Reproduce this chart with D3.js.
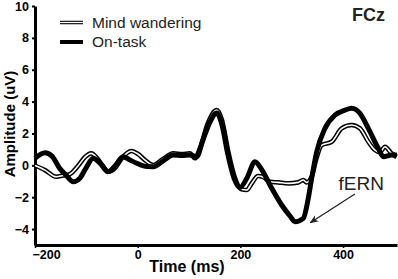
<!DOCTYPE html>
<html>
<head>
<meta charset="utf-8">
<script src="https://cdn.jsdelivr.net/npm/d3@7"></script>
<style>
  html, body { margin: 0; padding: 0; background: #fff; }
  svg { display: block; font-family: "Liberation Sans", Arial, sans-serif; }
</style>
</head>
<body>
<svg id="chart" width="398" height="279"></svg>
<script>
// ---- data ----
const onTaskTimes = [-200,-180.5,-166.9,-151.9,-139.6,-125.4,-112.4,-100.7,-86.5,-73.4,-57.8,-44.2,-28.6,-15,-1.9,18.1,30.4,49.3,69.3,86.3,101.8,114.9,127.2,140.8,153.8,164.2,175.8,187.5,199.2,212.8,228.4,242.1,261,280.4,296.6,306.3,322.5,331.6,338.8,348.6,364.7,384.2,403.7,416.7,432.9,449.1,468.5,478.3,494.6,504.4];
const onTaskValues = [0.44,0.79,0.58,-0.19,-0.61,-1.03,-0.80,-0.17,0.44,0.14,-0.40,-0.04,0.54,0.33,0.13,-0.08,-0.09,0.27,0.65,0.62,0.65,0.54,1.59,2.72,3.28,2.53,0.65,-0.80,-1.39,-0.80,0.23,-0.30,-1.44,-2.49,-3.18,-3.54,-3.33,-2.18,-0.82,0.85,2.32,3.15,3.47,3.58,3.26,2.32,1.07,0.54,0.65,0.54];
const mindTimes = [-200,-180.5,-158.5,-145.5,-132.4,-116.3,-102.6,-90.4,-79.3,-67.6,-57.8,-44.2,-30.6,-12.5,0.6,14.2,30.4,49.3,69.3,86.3,101.8,111.6,121.3,136.9,153.8,164.2,175.8,189.5,201.2,212.3,222.6,234.3,244,257.6,273.8,293.3,312.8,322.5,329.1,338.8,347.2,358.3,377.8,397.3,416.7,432.9,449.1,462.1,471.8,481.6,494.6,504.4];
const mindValues = [-0.01,-0.30,-0.72,-0.64,-0.56,-0.04,0.52,0.75,0.46,-0.04,-0.40,-0.17,0.46,0.90,0.71,0.33,0.02,0.40,0.75,0.71,0.75,0.44,1.09,2.66,3.47,2.84,0.96,-0.80,-1.49,-1.55,-1.11,-0.67,-0.73,-1.03,-1.07,-1.13,-1.07,-0.92,-1.07,-0.72,0.33,1.27,1.48,2.32,2.53,2.32,1.48,0.96,0.83,1.17,0.75,0.65];
const xTicks = [-200, 0, 200, 400];
const yTicks = [-4, -2, 0, 2, 4, 6, 8, 10];
const legendLabels = ["Mind wandering", "On-task"];
const channelLabel = "FCz";
const xTitle = "Time (ms)";
const yTitle = "Amplitude (uV)";
const annotationText = "fERN";
const annotationArrow = { fromT: 423, fromV: -1.8, toT: 336, toV: -3.6 };
const annotationLabel = { t: 391, v: -1.55 };

// ---- scales ----
const svg = d3.select("#chart");
const x = d3.scaleLinear().domain([-200, 505]).range([35, 397]);
const y = d3.scaleLinear().domain([-5, 10]).range([245, 6]);

// ---- axes ----
const yAxis = d3.axisLeft(y).tickValues(yTicks).tickSize(3).tickSizeOuter(0).tickPadding(3);
const gy = svg.append("g").attr("transform", `translate(${x(-200)},0)`).call(yAxis);
gy.select(".domain").attr("stroke-width", 3).attr("stroke", "#000");
gy.selectAll(".tick line").attr("stroke-width", 2);
gy.selectAll(".tick text").attr("font-size", 12.5).attr("font-weight", "bold").attr("fill", "#000");

const xAxis = d3.axisBottom(x).tickValues(xTicks).tickSize(3).tickSizeOuter(0).tickPadding(2);
const gx = svg.append("g").attr("transform", `translate(0,${y(-5)})`).call(xAxis);
gx.select(".domain").attr("stroke-width", 3).attr("stroke", "#000");
gx.selectAll(".tick line").attr("stroke-width", 1.5);
gx.selectAll(".tick text").attr("font-size", 12.5).attr("font-weight", "bold").attr("fill", "#000")
  .attr("dx", d => d === -200 ? 11 : 0);

// ---- lines ----
const line = d3.line().curve(d3.curveMonotoneX).x(d => x(d[0])).y(d => y(d[1]));
const mindData = mindTimes.map((t, i) => [t, mindValues[i]]);
const onData = onTaskTimes.map((t, i) => [t, onTaskValues[i]]);

svg.append("path").datum(mindData).attr("d", line)
  .attr("fill", "none").attr("stroke", "#000").attr("stroke-width", 4.6).attr("stroke-linejoin", "round");
svg.append("path").datum(mindData).attr("d", line)
  .attr("fill", "none").attr("stroke", "#fff").attr("stroke-width", 1.6).attr("stroke-linejoin", "round");
svg.append("path").datum(onData).attr("d", line)
  .attr("fill", "none").attr("stroke", "#000").attr("stroke-width", 5).attr("stroke-linejoin", "round");

// ---- legend ----
const leg = svg.append("g");
legendLabels.forEach((lab, i) => {
  const yy = 22.5 + i * 19.5;
  if (i === 0) {
    leg.append("line").attr("x1", 60).attr("x2", 83).attr("y1", yy).attr("y2", yy)
      .attr("stroke", "#000").attr("stroke-width", 3.5);
    leg.append("line").attr("x1", 60).attr("x2", 83).attr("y1", yy).attr("y2", yy)
      .attr("stroke", "#fff").attr("stroke-width", 1.3);
  } else {
    leg.append("line").attr("x1", 60).attr("x2", 83).attr("y1", yy).attr("y2", yy)
      .attr("stroke", "#000").attr("stroke-width", 4);
  }
  leg.append("text").attr("x", 92).attr("y", yy + 5).attr("font-size", 15.5).attr("fill", "#222").text(lab);
});

// ---- titles ----
svg.append("text").attr("x", 385).attr("y", 21).attr("text-anchor", "end")
  .attr("font-size", 18).attr("font-weight", "bold").attr("fill", "#222").text(channelLabel);
svg.append("text").attr("x", 187).attr("y", 272).attr("text-anchor", "middle")
  .attr("font-size", 16).attr("font-weight", "bold").text(xTitle);
svg.append("text").attr("transform", "translate(14.5,124) rotate(-90)").attr("text-anchor", "middle")
  .attr("font-size", 15).attr("font-weight", "bold").text(yTitle);

// ---- annotation ----
svg.append("defs").append("marker").attr("id", "arr").attr("viewBox", "0 0 10 10")
  .attr("refX", 9).attr("refY", 5).attr("markerWidth", 9).attr("markerHeight", 9)
  .attr("markerUnits", "userSpaceOnUse").attr("orient", "auto")
  .append("path").attr("d", "M0,1 L10,5 L0,9 L3,5 Z").attr("fill", "#222");
svg.append("line")
  .attr("x1", x(annotationArrow.fromT)).attr("y1", y(annotationArrow.fromV))
  .attr("x2", x(annotationArrow.toT)).attr("y2", y(annotationArrow.toV))
  .attr("stroke", "#222").attr("stroke-width", 1.3).attr("marker-end", "url(#arr)");
svg.append("text").attr("x", x(annotationLabel.t)).attr("y", y(annotationLabel.v))
  .attr("font-size", 19).attr("fill", "#222").text(annotationText);
</script>
</body>
</html>
